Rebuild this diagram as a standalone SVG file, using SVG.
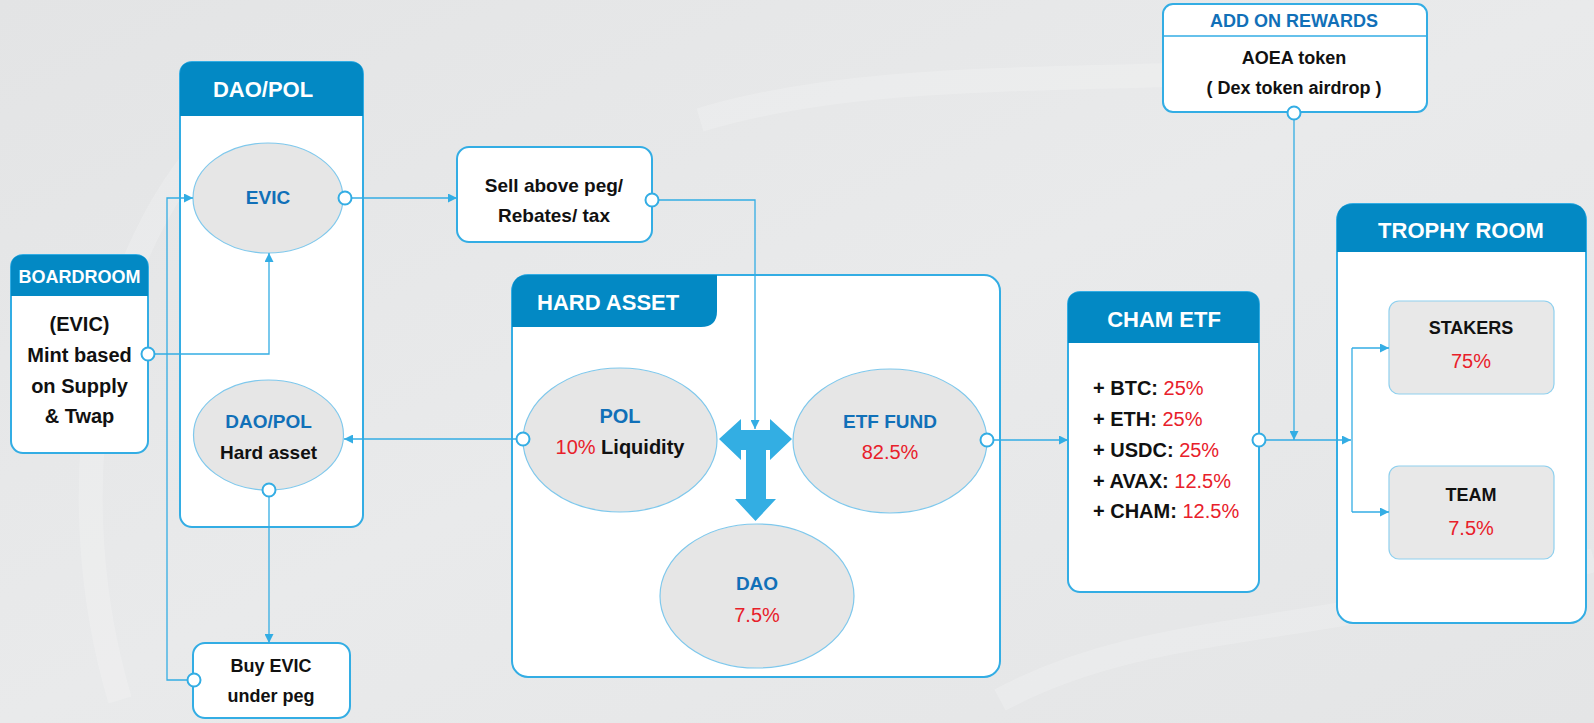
<svg xmlns="http://www.w3.org/2000/svg" width="1594" height="723" viewBox="0 0 1594 723">
  <defs>
    <linearGradient id="bg" x1="0" y1="0" x2="1" y2="1">
      <stop offset="0" stop-color="#e3e4e5"/>
      <stop offset="0.5" stop-color="#e9eaeb"/>
      <stop offset="1" stop-color="#e4e5e6"/>
    </linearGradient>
    <marker id="arr" viewBox="0 0 10 10" refX="10" refY="5" markerWidth="9" markerHeight="9" markerUnits="userSpaceOnUse" orient="auto">
      <path d="M0,0 L10,5 L0,10 Z" fill="#33ade4"/>
    </marker>
    <style>
      .box{fill:#ffffff;stroke:#33ade4;stroke-width:2}
      .hdr{fill:#0389c4}
      .ell{fill:#e6e6e6;stroke:#7fc8ec;stroke-width:1.2}
      .sub{fill:#e8e8e8;stroke:#8fd0ee;stroke-width:1.2}
      .ln{fill:none;stroke:#33ade4;stroke-width:1.3}
      .dot{fill:#ffffff;stroke:#33ade4;stroke-width:2}
      text{font-family:"Liberation Sans",Arial,sans-serif;font-weight:bold;text-anchor:middle}
      .ht{fill:#ffffff;font-size:22px}
      .bt{fill:#111111;font-size:19px}
      .blue{fill:#1170b8}
      .red{fill:#e8202a;font-weight:normal}
    </style>
  </defs>

  <rect x="0" y="0" width="1594" height="723" fill="url(#bg)"/>
  <g opacity="0.18" fill="none" stroke="#ffffff" stroke-width="24">
    <path d="M120,700 C60,500 90,250 230,120"/>
    <path d="M700,120 C900,60 1150,90 1400,60"/>
    <path d="M1000,700 C1150,620 1300,640 1594,560"/>
  </g>

  <!-- BOARDROOM -->
  <g id="boardroom">
    <rect class="box" x="11" y="255" width="137" height="198" rx="12"/>
    <path class="hdr" d="M11,296 V267 Q11,255 23,255 H136 Q148,255 148,267 V296 Z"/>
    <text class="ht" x="79.5" y="283" style="font-size:18px">BOARDROOM</text>
    <text class="bt" x="79.5" y="331" style="font-size:20px">(EVIC)</text>
    <text class="bt" x="79.5" y="362" style="font-size:20px">Mint based</text>
    <text class="bt" x="79.5" y="393" style="font-size:20px">on Supply</text>
    <text class="bt" x="79.5" y="423" style="font-size:20px">&amp; Twap</text>
  </g>

  <!-- DAO/POL container -->
  <g id="daopol">
    <rect class="box" x="180" y="62" width="183" height="465" rx="12"/>
    <path class="hdr" d="M180,116 V74 Q180,62 192,62 H351 Q363,62 363,74 V116 Z"/>
    <text class="ht" x="263" y="97">DAO/POL</text>
  </g>
  <g id="evic">
    <ellipse class="ell" cx="268" cy="198" rx="75" ry="55"/>
    <text class="blue" x="268" y="204" style="font-size:19px">EVIC</text>
  </g>
  <g id="daopol-hard">
    <ellipse class="ell" cx="268.5" cy="435" rx="75" ry="55"/>
    <text class="blue" x="268.5" y="428" style="font-size:19px">DAO/POL</text>
    <text class="bt" x="268.5" y="459">Hard asset</text>
  </g>

  <!-- Buy EVIC -->
  <g id="buy">
    <rect class="box" x="193" y="643" width="157" height="75" rx="12"/>
    <text class="bt" x="271" y="672" style="font-size:18px">Buy EVIC</text>
    <text class="bt" x="271" y="702" style="font-size:18px">under peg</text>
  </g>

  <!-- Sell -->
  <g id="sell">
    <rect class="box" x="457" y="147" width="195" height="95" rx="12"/>
    <text class="bt" x="554" y="192">Sell above peg/</text>
    <text class="bt" x="554" y="222">Rebates/ tax</text>
  </g>

  <!-- HARD ASSET -->
  <g id="hardasset">
    <rect class="box" x="512" y="275" width="488" height="402" rx="16"/>
    <path class="hdr" d="M512,327 V291 Q512,275 528,275 H717 V311 Q717,327 701,327 Z"/>
    <text class="ht" x="537" y="310" style="text-anchor:start">HARD ASSET</text>
  </g>
  <g id="pol">
    <ellipse class="ell" cx="620" cy="440" rx="97" ry="72"/>
    <text class="blue" x="620" y="423" style="font-size:20px">POL</text>
    <text x="620" y="454" style="font-size:20px"><tspan class="red">10%</tspan><tspan fill="#111111"> Liquidity</tspan></text>
  </g>
  <g id="etffund">
    <ellipse class="ell" cx="890" cy="441" rx="97" ry="72"/>
    <text class="blue" x="890" y="428" style="font-size:19px">ETF FUND</text>
    <text class="red" x="890" y="459" style="font-size:20px">82.5%</text>
  </g>
  <g id="dao">
    <ellipse class="ell" cx="757" cy="596" rx="97" ry="72"/>
    <text class="blue" x="757" y="590" style="font-size:19px">DAO</text>
    <text class="red" x="757" y="622" style="font-size:20px">7.5%</text>
  </g>
  <g id="t-arrow">
    <polygon fill="#33aee3" points="719,439 741,419 741,430 770,430 770,419 792,439 770,460 770,450 766,450 766,499 776,499 755.5,521 735,499 746,499 746,450 741,450 741,460"/>
  </g>

  <!-- CHAM ETF -->
  <g id="chametf">
    <rect class="box" x="1068" y="292" width="191" height="300" rx="12"/>
    <path class="hdr" d="M1068,343 V304 Q1068,292 1080,292 H1247 Q1259,292 1259,304 V343 Z"/>
    <text class="ht" x="1164" y="327">CHAM ETF</text>
    <text x="1093" y="395" style="text-anchor:start;font-size:20px" fill="#111111">+ BTC: <tspan class="red">25%</tspan></text>
    <text x="1093" y="426" style="text-anchor:start;font-size:20px" fill="#111111">+ ETH: <tspan class="red">25%</tspan></text>
    <text x="1093" y="457" style="text-anchor:start;font-size:20px" fill="#111111">+ USDC: <tspan class="red">25%</tspan></text>
    <text x="1093" y="488" style="text-anchor:start;font-size:20px" fill="#111111">+ AVAX: <tspan class="red">12.5%</tspan></text>
    <text x="1093" y="518" style="text-anchor:start;font-size:20px" fill="#111111">+ CHAM: <tspan class="red">12.5%</tspan></text>
  </g>

  <!-- ADD ON REWARDS -->
  <g id="addon">
    <rect class="box" x="1163" y="4" width="264" height="108" rx="10"/>
    <line x1="1163" y1="36" x2="1427" y2="36" stroke="#33ade4" stroke-width="1.5"/>
    <text class="blue" x="1294" y="27" style="font-size:18px">ADD ON REWARDS</text>
    <text class="bt" x="1294" y="64" style="font-size:18px">AOEA token</text>
    <text class="bt" x="1294" y="94" style="font-size:18px">( Dex token airdrop )</text>
  </g>

  <!-- TROPHY ROOM -->
  <g id="trophy">
    <rect class="box" x="1337" y="204" width="249" height="419" rx="16"/>
    <path class="hdr" d="M1337,252 V220 Q1337,204 1353,204 H1570 Q1586,204 1586,220 V252 Z"/>
    <text class="ht" x="1461" y="238">TROPHY ROOM</text>
  </g>
  <g id="stakers">
    <rect class="sub" x="1389" y="301" width="165" height="93" rx="10"/>
    <text class="bt" x="1471" y="334" style="font-size:18px">STAKERS</text>
    <text class="red" x="1471" y="368" style="font-size:20px">75%</text>
  </g>
  <g id="team">
    <rect class="sub" x="1389" y="466" width="165" height="93" rx="10"/>
    <text class="bt" x="1471" y="501" style="font-size:18px">TEAM</text>
    <text class="red" x="1471" y="535" style="font-size:20px">7.5%</text>
  </g>

  <!-- connectors -->
  <g id="connectors">
    <path class="ln" d="M345,198 H457" marker-end="url(#arr)"/>
    <path class="ln" d="M652,200 H755 V429" marker-end="url(#arr)"/>
    <path class="ln" d="M148,354 H269 V253" marker-end="url(#arr)"/>
    <path class="ln" d="M194,680 H167 V198 H193" marker-end="url(#arr)"/>
    <path class="ln" d="M269,490 V643" marker-end="url(#arr)"/>
    <path class="ln" d="M523,439 H344" marker-end="url(#arr)"/>
    <path class="ln" d="M987,440 H1068" marker-end="url(#arr)"/>
    <path class="ln" d="M1259,440 H1351" marker-end="url(#arr)"/>
    <path class="ln" d="M1294,113 V440" marker-end="url(#arr)"/>
    <path class="ln" d="M1352,348 V512"/>
    <path class="ln" d="M1352,348 H1389" marker-end="url(#arr)"/>
    <path class="ln" d="M1352,512 H1389" marker-end="url(#arr)"/>
    <circle class="dot" cx="345" cy="198" r="6.5"/>
    <circle class="dot" cx="652" cy="200" r="6.5"/>
    <circle class="dot" cx="148" cy="354" r="6.5"/>
    <circle class="dot" cx="269" cy="490" r="6.5"/>
    <circle class="dot" cx="194" cy="680" r="6.5"/>
    <circle class="dot" cx="523" cy="439" r="6.5"/>
    <circle class="dot" cx="987" cy="440" r="6.5"/>
    <circle class="dot" cx="1259" cy="440" r="6.5"/>
    <circle class="dot" cx="1294" cy="113" r="6.5"/>
  </g>
</svg>
